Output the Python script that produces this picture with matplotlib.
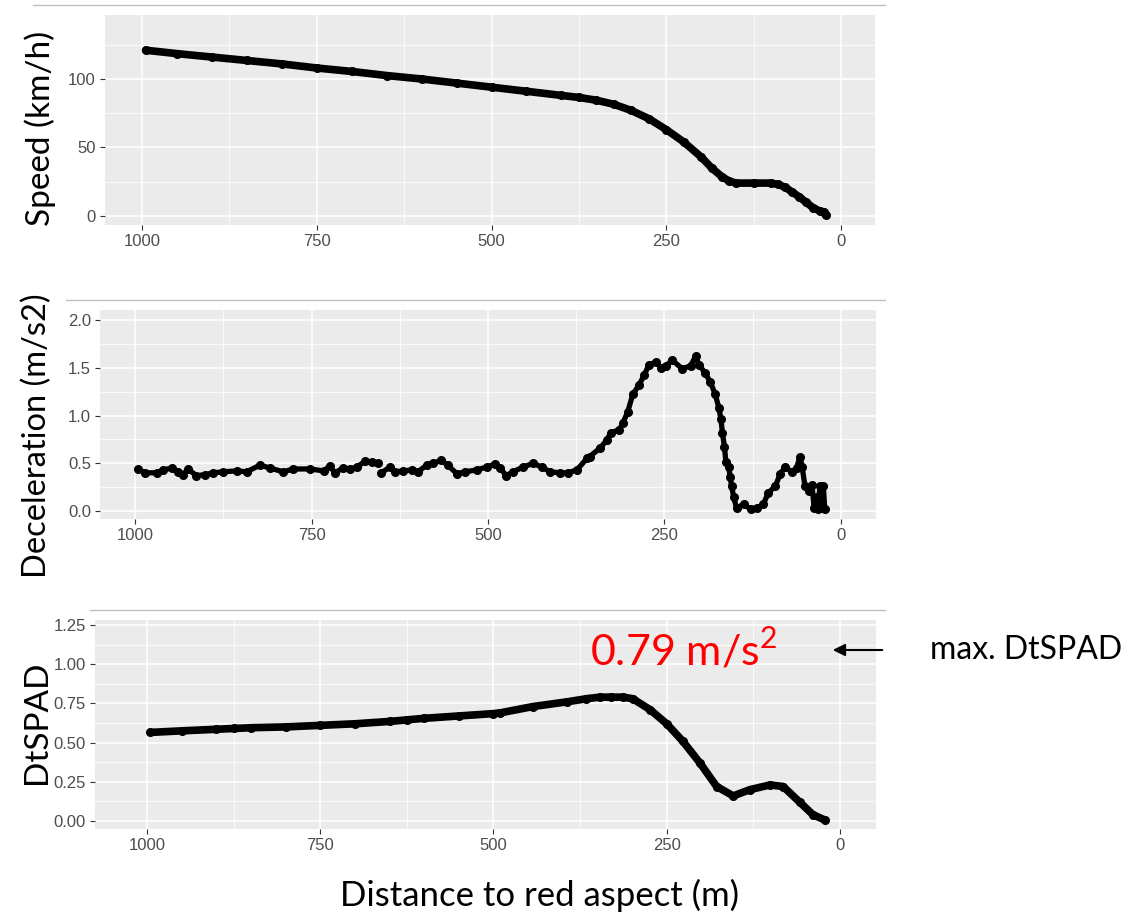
import numpy as np
import matplotlib
matplotlib.use('Agg')
import matplotlib.pyplot as plt
from matplotlib.lines import Line2D

plt.rcParams['mathtext.fontset'] = 'custom'
plt.rcParams['mathtext.rm'] = 'Lato'

# ---- data ----
speed_d = [995, 950, 900, 850, 800, 750, 700, 650, 600, 550, 500, 450, 400, 375, 350,
           325, 300, 275, 250, 225, 200, 185, 170, 160, 150, 125, 100, 90, 80, 70,
           60, 50, 40, 30, 25, 22]
speed_v = [121, 118.5, 116, 113.5, 111, 108, 105.5, 102.5, 100, 97, 94, 91, 88, 86.5, 84.5,
           81.5, 77, 71, 63, 54, 43, 35, 28.5, 25.5, 24, 24, 24, 23, 21, 17.5,
           14, 10, 6, 3.5, 3, 0.5]

# gap in the deceleration trace around 653 m (nan)
dec_d = [996, 986, 969, 960, 948, 939, 932, 925, 913, 901, 889, 875, 856, 842, 823,
         809, 790, 776, 752, 733, 724, 717, 705, 695, 686, 674, 665, 656, 653,
         651, 639, 632, 620, 608, 599, 587, 578, 566, 557, 544, 533, 516, 502,
         490, 483, 474, 465, 450, 436, 424, 412, 398, 387, 374, 360, 356,
         341, 332, 326, 314, 309, 302, 295, 286, 279, 272, 262, 255, 248, 239,
         225, 213, 206, 201, 192, 185, 178, 173, 170, 168, 165, 163, 159, 157,
         155, 152, 148, 138, 128, 119, 110, 103, 93, 86, 79, 70, 63, 58, 55,
         51, 46, 41, 38, 34, 32, 30, 27, 25, 23]
dec_v = [0.44, 0.40, 0.40, 0.43, 0.45, 0.41, 0.38, 0.44, 0.37, 0.38, 0.40, 0.41, 0.42, 0.41, 0.48,
         0.45, 0.41, 0.44, 0.44, 0.42, 0.47, 0.40, 0.45, 0.44, 0.46, 0.52, 0.51, 0.50, np.nan,
         0.40, 0.46, 0.41, 0.42, 0.43, 0.41, 0.48, 0.50, 0.53, 0.48, 0.39, 0.41, 0.43, 0.46,
         0.49, 0.45, 0.37, 0.41, 0.46, 0.50, 0.46, 0.41, 0.40, 0.40, 0.43, 0.55, 0.57,
         0.66, 0.74, 0.82, 0.85, 0.92, 1.04, 1.22, 1.32, 1.42, 1.53, 1.56, 1.50, 1.52, 1.58,
         1.49, 1.52, 1.62, 1.53, 1.44, 1.35, 1.22, 1.08, 0.96, 0.82, 0.67, 0.51, 0.46, 0.36,
         0.26, 0.15, 0.03, 0.07, 0.02, 0.03, 0.07, 0.19, 0.26, 0.39, 0.46, 0.41, 0.45, 0.57, 0.46,
         0.26, 0.21, 0.27, 0.03, 0.15, 0.02, 0.26, 0.03, 0.26, 0.02]

dt_d = [995, 950, 900, 875, 850, 800, 750, 700, 650, 625, 600, 550, 500, 490, 443,
        394, 366, 346, 330, 313, 299, 274, 250, 227, 202, 178, 154, 130, 101, 82,
        58, 39, 21]
dt_v = [0.565, 0.575, 0.585, 0.59, 0.595, 0.60, 0.61, 0.62, 0.635, 0.645, 0.655, 0.67, 0.685, 0.69, 0.73,
        0.76, 0.78, 0.79, 0.79, 0.79, 0.78, 0.71, 0.62, 0.51, 0.37, 0.22, 0.16, 0.20, 0.23, 0.22,
        0.12, 0.04, 0.005]

xbreaks = [1000, 750, 500, 250, 0]
xminor = [875, 625, 375, 125]

W, H = 1147, 914
fig = plt.figure(figsize=(W / 100, H / 100), dpi=100)


def box(l, t, r, b):
    return [l / W, 1 - b / H, (r - l) / W, (b - t) / H]


def gg(ax, xlim, ylim, yticks, yminor, ylabs):
    ax.set_facecolor('#EBEBEB')
    for s in ax.spines.values():
        s.set_visible(False)
    ax.set_xlim(*xlim)
    ax.set_ylim(*ylim)
    ax.set_xticks(xbreaks)
    ax.set_xticks(xminor, minor=True)
    ax.set_yticks(yticks)
    ax.set_yticklabels(ylabs)
    ax.set_yticks(yminor, minor=True)
    ax.grid(which='major', color='white', lw=1.1)
    ax.grid(which='minor', color='white', lw=0.55)
    ax.set_axisbelow(True)
    ax.tick_params(which='major', length=3.5, width=0.8, color='#333333',
                   labelcolor='#4D4D4D', labelsize=12, pad=3)
    ax.tick_params(which='minor', length=0)
    for lab in ax.get_xticklabels() + ax.get_yticklabels():
        lab.set_family('Liberation Sans')


# speed
ax1 = fig.add_axes(box(105, 15, 875, 225))
gg(ax1, (1053, -48.6), (-6.6, 146.7), [0, 50, 100], [25, 75, 125], ['0', '50', '100'])
ax1.plot(speed_d, speed_v, '-o', color='black', lw=5.5, ms=5.5, solid_capstyle='round')

# deceleration
ax2 = fig.add_axes(box(100, 310, 876, 519))
gg(ax2, (1049.6, -49.6), (-0.084, 2.105), [0, 0.5, 1, 1.5, 2], [0.25, 0.75, 1.25, 1.75],
   ['0.0', '0.5', '1.0', '1.5', '2.0'])
ax2.plot(dec_d, dec_v, '-o', color='black', lw=3.8, ms=5.5, solid_capstyle='round')

# DtSPAD
ax3 = fig.add_axes(box(95, 620, 876, 829))
gg(ax3, (1075, -52), (-0.051, 1.282), [0, 0.25, 0.5, 0.75, 1, 1.25],
   [0.125, 0.375, 0.625, 0.875, 1.125],
   ['0.00', '0.25', '0.50', '0.75', '1.00', '1.25'])
ax3.plot(dt_d, dt_v, '-o', color='black', lw=5.5, ms=5.5, solid_capstyle='round')

# separators between panels
for y, x0 in [(5, 33), (300, 66), (610, 90)]:
    fig.add_artist(Line2D([x0 / W, 885 / W], [1 - y / H, 1 - y / H], color='#BFBFBF', lw=1))

big = dict(family='Lato', color='black')
fig.text(40 / W, 1 - 128 / H, 'Speed (km/h)', rotation=90, ha='center', va='center', fontsize=24, **big)
fig.text(37 / W, 1 - 436 / H, 'Deceleration (m/s2)', rotation=90, ha='center', va='center', fontsize=23.5, **big)
fig.text(37 / W, 1 - 722 / H, 'DtSPAD', rotation=90, ha='center', va='center', fontsize=24, **big)
fig.text(540 / W, 1 - 895 / H, 'Distance to red aspect (m)', ha='center', va='center', fontsize=25, **big)

fig.text(684 / W, 1 - 650 / H, r'0.79 m/s$^2$', ha='center', va='center', fontsize=31,
         color='red', family='Lato')
fig.text(930 / W, 1 - 650 / H, 'max. DtSPAD', ha='left', va='center', fontsize=23, **big)
fig.add_artist(matplotlib.patches.FancyArrowPatch((885 / W, 1 - 650 / H), (830 / W, 1 - 650 / H),
                                                  transform=fig.transFigure, arrowstyle='-|>',
                                                  mutation_scale=18, color='black', lw=1.5))

fig.savefig('out.png', dpi=100)
